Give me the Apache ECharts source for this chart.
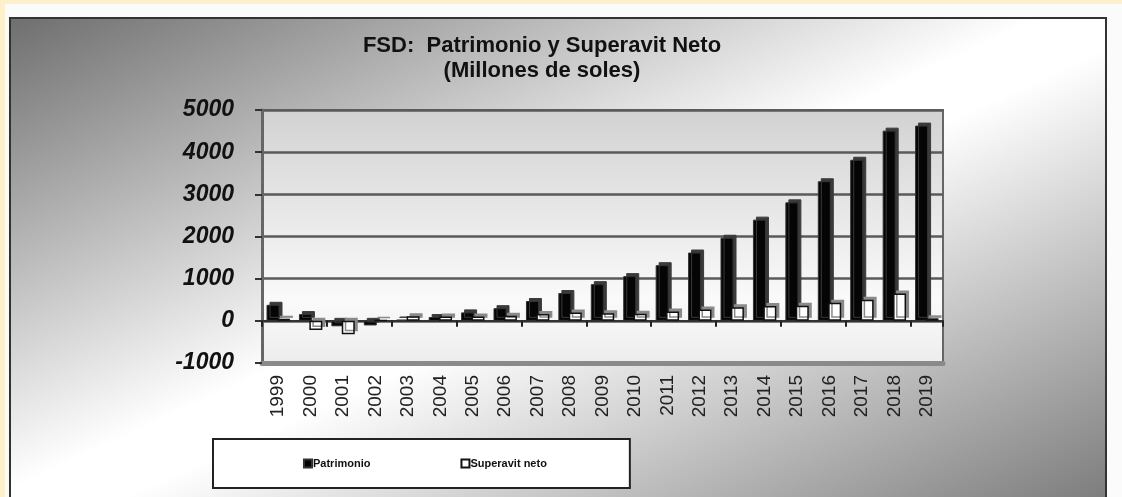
<!DOCTYPE html>
<html>
<head>
<meta charset="utf-8">
<script src="https://cdn.jsdelivr.net/npm/echarts@6/dist/echarts.min.js"></script>
<style>
  html, body { margin: 0; padding: 0; background: #fdf0cc; overflow: hidden; }
  #sheet { position: absolute; left: 5px; top: 4px; right: 0; bottom: 0; background: #fbfbfb; }
  #frame {
    position: absolute; left: 9px; top: 17px; width: 1094px; height: 500px;
    border: 2px solid #333;
    background: linear-gradient(to bottom right, #6f6f6f 0%, #ffffff 47%, #ffffff 53%, #777777 100%);
  }
  #chart { position: absolute; left: 0; top: 0; width: 1122px; height: 497px; }
</style>
</head>
<body>
<div id="sheet"></div>
<div id="frame"></div>
<div id="chart"></div>
<script>
const years = ['1999', '2000', '2001', '2002', '2003', '2004', '2005', '2006', '2007', '2008', '2009',
  '2010', '2011', '2012', '2013', '2014', '2015', '2016', '2017', '2018', '2019']
const patrimonio = [380, 160, -130, -110, 30, 90, 200, 300, 470, 660, 870,
  1060, 1320, 1620, 1970, 2400, 2810, 3310, 3820, 4510, 4630]
const superavit = [50, -220, -320, 10, 110, 100, 100, 120, 160, 200, 180,
  170, 220, 270, 320, 350, 360, 430, 500, 650, 60]
const yTicks = { min: -1000, max: 5000, step: 1000 }

const chart = echarts.init(document.getElementById('chart'))

const option = {
  backgroundColor: 'transparent',
  animation: false,
  title: {
    text: 'FSD:  Patrimonio y Superavit Neto\n(Millones de soles)',
    left: 542,
    top: 33,
    padding: 0,
    textAlign: 'center',
    textStyle: {
      fontFamily: 'Liberation Sans',
      fontSize: 22,
      fontWeight: 'bold',
      color: '#111',
      lineHeight: 25
    }
  },
  legend: {
    left: 213,
    top: 439,
    padding: [19, 83, 19, 90],
    itemGap: 90,
    itemWidth: 8,
    itemHeight: 8,
    backgroundColor: '#fff',
    borderColor: '#222',
    borderWidth: 2,
    textStyle: { fontFamily: 'Liberation Sans', fontSize: 11, fontWeight: 'bold', color: '#111', padding: [0, 0, 0, -4] },
    data: [
      { name: 'Patrimonio', icon: 'rect' },
      { name: 'Superavit neto', icon: 'rect' }
    ]
  },
  grid: {
    left: 262,
    right: 179,
    top: 110,
    bottom: 134,
    show: true,
    borderColor: '#666',
    borderWidth: 2,
    backgroundColor: new echarts.graphic.LinearGradient(0, 0, 0, 1, [
      { offset: 0, color: '#d2d2d2' },
      { offset: 0.75, color: '#fafafa' },
      { offset: 1, color: '#ededed' }
    ])
  },
  xAxis: [
    {
      type: 'category',
      data: years,
      position: 'bottom',
      axisLine: { onZero: false, lineStyle: { color: '#8a8a8a', width: 5 } },
      axisTick: { show: false },
      axisLabel: {
        rotate: 90,
        margin: 12,
        fontFamily: 'Liberation Sans',
        fontSize: 19,
        color: '#222'
      }
    },
    {
      type: 'category',
      data: years,
      position: 'bottom',
      axisLine: { onZero: true, lineStyle: { color: '#333', width: 2 } },
      axisTick: { show: true, length: 6, lineStyle: { color: '#222', width: 2 } },
      axisLabel: { show: false }
    }
  ],
  yAxis: {
    type: 'value',
    min: yTicks.min,
    max: yTicks.max,
    interval: yTicks.step,
    axisLine: { show: true, lineStyle: { color: '#666', width: 3 } },
    axisTick: { show: true, length: 7, lineStyle: { color: '#333', width: 2 } },
    splitLine: { lineStyle: { color: '#5a5a5a', width: 2.5 } },
    axisLabel: {
      margin: 28,
      formatter: (v) => String(v),
      fontFamily: 'Liberation Sans',
      fontSize: 23,
      fontWeight: 'bold',
      fontStyle: 'italic',
      color: '#111'
    }
  },
  series: [
    {
      name: 'Patrimonio',
      type: 'bar',
      data: patrimonio,
      barWidth: 13,
      barGap: '-20%',
      itemStyle: {
        color: '#050505',
        borderColor: '#333',
        borderWidth: 1,
        shadowColor: '#3a3a3a',
        shadowOffsetX: 3,
        shadowOffsetY: -3
      }
    },
    {
      name: 'Superavit neto',
      type: 'bar',
      data: superavit,
      barWidth: 13,
      itemStyle: {
        color: '#ffffff',
        borderColor: '#111',
        borderWidth: 1.5,
        shadowColor: '#8a8a8a',
        shadowOffsetX: 3,
        shadowOffsetY: -3
      }
    }
  ]
}

chart.setOption(option)
</script>
</body>
</html>
